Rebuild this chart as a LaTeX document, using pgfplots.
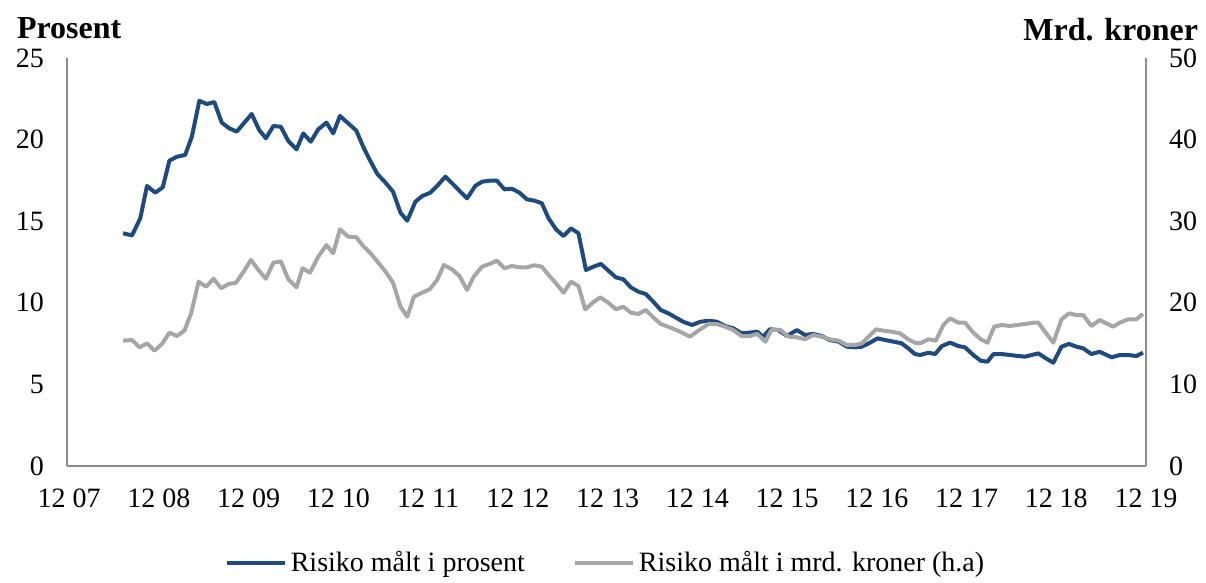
\documentclass[border=0pt]{standalone}
\usepackage{fontspec}
\setmainfont{Liberation Serif}
\usepackage{pgfplots}
\pgfplotsset{compat=1.18}

\definecolor{risblue}{HTML}{1F4A80}
\definecolor{risgray}{HTML}{A6A6A6}
\definecolor{axgray}{HTML}{8C8C8C}

% x = months since Dec 2007
\pgfplotstableread{
m v
7.2 14.26
8.4 14.13
9.5 15.18
10.4 17.16
11.5 16.75
12.5 17.07
13.4 18.71
14.4 18.95
15.5 19.06
16.4 20.18
17.4 22.38
18.4 22.18
19.4 22.30
20.4 21.04
21.4 20.69
22.4 20.49
24.4 21.57
25.4 20.59
26.3 20.08
27.3 20.83
28.3 20.79
29.3 19.91
30.4 19.40
31.3 20.38
32.3 19.87
33.3 20.63
34.4 21.04
35.3 20.38
36.2 21.45
37.3 21.00
38.4 20.55
39.3 19.57
40.2 18.75
41.2 17.89
42.3 17.36
43.3 16.81
44.3 15.52
45.2 15.03
46.3 16.20
47.2 16.54
48.3 16.75
49.2 17.16
50.3 17.73
51.3 17.28
52.3 16.81
53.2 16.40
54.3 17.16
55.2 17.42
56.2 17.48
57.2 17.48
58.2 16.95
59.2 16.99
60.2 16.75
61.2 16.34
62.2 16.26
63.2 16.10
64.1 15.18
65.1 14.50
66.1 14.09
67.1 14.56
68.1 14.26
69.1 12.01
70.1 12.21
71.1 12.38
72.1 11.97
73.1 11.56
74.1 11.44
75.1 10.95
76.1 10.68
77.1 10.54
78.1 10.07
79.1 9.56
80.1 9.36
82.1 8.84
83.3 8.64
84.4 8.84
85.5 8.90
86.6 8.84
87.7 8.58
88.8 8.44
89.9 8.13
91.0 8.17
92.0 8.23
92.8 7.92
93.7 8.38
94.8 8.33
96.0 7.97
97.3 8.33
98.4 8.03
99.5 8.09
100.6 7.97
101.7 7.72
102.9 7.62
104.0 7.31
105.1 7.27
106.0 7.31
107.1 7.56
108.1 7.82
109.1 7.72
110.2 7.62
111.3 7.52
112.2 7.21
113.1 6.86
113.8 6.80
114.9 6.94
115.8 6.86
116.7 7.35
117.8 7.56
118.9 7.35
119.8 7.27
120.9 6.80
121.9 6.45
122.8 6.39
123.6 6.86
124.7 6.86
125.8 6.80
126.9 6.74
127.8 6.70
129.6 6.90
130.6 6.60
131.6 6.33
132.7 7.31
133.7 7.48
134.7 7.31
135.6 7.21
136.7 6.86
137.8 7.00
139.4 6.66
140.5 6.80
141.6 6.80
142.7 6.74
143.6 6.94
}\pct

\pgfplotstableread{
m v
7.2 15.36
8.4 15.44
9.4 14.54
10.4 15.03
11.4 14.13
12.4 14.95
13.4 16.34
14.4 15.93
15.4 16.58
16.3 18.71
17.3 22.59
18.3 21.97
19.3 22.95
20.3 21.78
21.3 22.30
22.3 22.46
23.4 23.93
24.3 25.25
25.3 24.02
26.3 22.95
27.3 24.91
28.3 25.08
29.3 22.88
30.4 21.90
31.2 24.23
32.2 23.69
33.3 25.65
34.4 27.08
35.3 26.07
36.2 29.01
37.3 28.10
38.4 28.03
39.3 26.96
40.3 26.07
41.4 24.84
42.4 23.69
43.3 22.46
44.3 19.52
45.2 18.30
46.1 20.75
47.2 21.24
48.2 21.65
49.2 22.79
50.1 24.63
51.2 24.10
52.2 23.28
53.2 21.57
54.1 23.20
55.2 24.43
56.2 24.75
57.2 25.16
58.2 24.23
59.2 24.51
60.2 24.35
61.2 24.35
62.2 24.60
63.2 24.43
64.1 23.41
65.1 22.39
66.1 21.24
67.1 22.59
68.1 22.06
69.0 19.20
70.0 20.01
71.0 20.67
72.1 20.01
73.1 19.20
74.1 19.52
75.1 18.79
76.1 18.63
77.1 19.12
78.1 18.22
79.1 17.40
80.1 17.07
81.7 16.46
83.0 15.85
84.4 16.75
85.5 17.40
86.6 17.40
87.7 17.07
88.8 16.67
89.9 15.93
91.0 15.93
92.0 16.18
93.1 15.23
93.9 16.67
95.1 16.67
96.2 15.85
97.3 15.77
98.4 15.53
99.5 16.05
100.6 15.85
101.7 15.53
102.9 15.36
104.0 14.83
105.1 14.83
106.0 15.03
106.9 15.85
107.9 16.75
108.9 16.58
110.0 16.46
111.1 16.26
112.2 15.53
113.1 15.11
113.8 15.03
114.9 15.53
115.9 15.36
116.9 17.28
117.8 18.10
118.9 17.56
119.8 17.56
120.9 16.34
121.9 15.53
122.8 15.11
123.7 17.07
124.7 17.28
125.8 17.16
126.8 17.28
127.8 17.40
128.9 17.56
129.6 17.56
130.5 16.46
131.6 15.11
132.7 17.98
133.7 18.71
134.7 18.50
135.6 18.50
136.7 17.16
137.8 17.89
138.7 17.48
139.6 17.07
140.5 17.56
141.6 17.98
142.7 17.98
143.6 18.63
}\kr

\pgfplotsset{
  base/.style={
    width=539.5pt, height=204pt, scale only axis,
    xmin=-0.3, xmax=144,
    clip=false,
    major tick length=0pt,
    axis line style={-, draw=axgray, line width=1pt},
    tick label style={font=\fontsize{14}{16}\selectfont, text=black},
    /pgf/number format/assume math mode=true,
  },
}

\begin{document}
\begin{tikzpicture}
\begin{axis}[base,
  axis x line*=bottom, axis y line*=left,
  ymin=0, ymax=25, ytick={0,5,...,25},
  yticklabel style={xshift=-8pt},
  xtick={0,12,...,144},
  xticklabels={12 07,12 08,12 09,12 10,12 11,12 12,12 13,12 14,12 15,12 16,12 17,12 18,12 19},
  xticklabel style={yshift=-8pt},
]
\addplot[risblue, line width=2pt, line join=round] table[x=m, y=v] {\pct};
\node[anchor=west, font=\fontsize{16}{18}\selectfont\bfseries]
  at ([shift={(-28.5pt,15pt)}]rel axis cs:0,1) {Prosent};
\node[anchor=east, font=\fontsize{16}{18}\selectfont\bfseries]
  at ([shift={(29.5pt,14pt)}]rel axis cs:1,1) {Mrd. kroner};
\coordinate (bbsw) at ([shift={(-33.5pt,-55.5pt)}]rel axis cs:0,0);
\coordinate (bbne) at ([shift={(30pt,29pt)}]rel axis cs:1,1);
\end{axis}

\begin{axis}[base,
  hide x axis, axis y line*=right,
  ymin=0, ymax=50, ytick={0,10,...,50},
  yticklabel style={xshift=8pt},
  legend columns=2,
  legend style={at={(0.5,-0.238)}, anchor=center, draw=none, fill=none,
    font=\fontsize{14}{16}\selectfont,
    /tikz/every even column/.append style={column sep=22pt}},
  legend image code/.code={\draw[#1] (0pt,0pt) -- (29pt,0pt);},
]
\addlegendimage{risblue, line width=2pt}
\addlegendentry{Risiko målt i prosent}
\addplot[risgray, line width=2pt, line join=round] table[x=m, y=v] {\kr};
\addlegendentry{Risiko målt i mrd. kroner (h.a)}
\end{axis}
\path (bbsw) rectangle (bbne);
\end{tikzpicture}
\end{document}
